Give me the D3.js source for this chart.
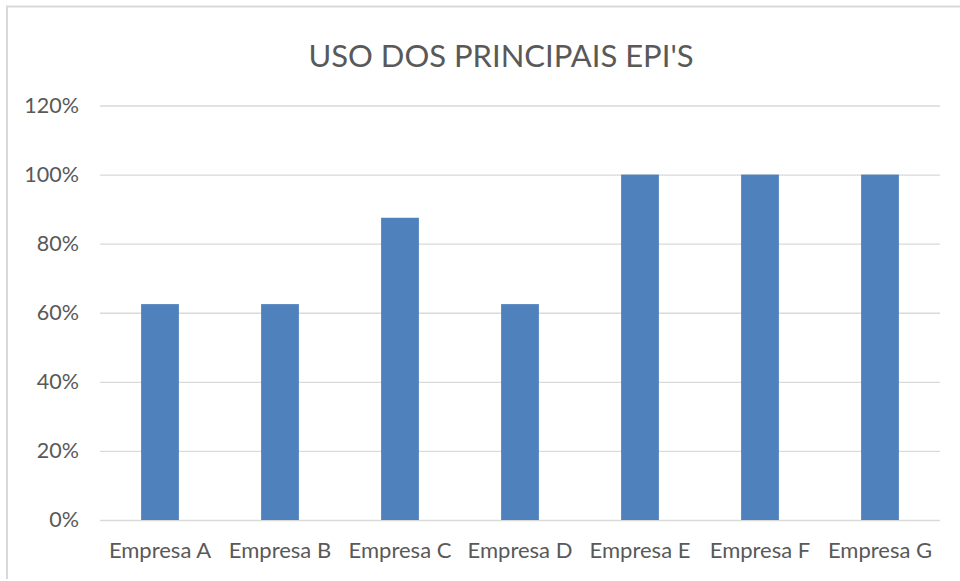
<!DOCTYPE html>
<html><head><meta charset="utf-8">
<script src="https://cdn.jsdelivr.net/npm/d3@7"></script>
<style>body{margin:0;background:#fff}svg{display:block}</style>
</head><body>
<svg id="c" width="960" height="581"></svg>
<script>
const categories = ["Empresa A","Empresa B","Empresa C","Empresa D","Empresa E","Empresa F","Empresa G"];
const values = [0.625,0.625,0.875,0.625,1.0,1.0,1.0];
const yTicks = [0,0.2,0.4,0.6,0.8,1.0,1.2];
const title = "USO DOS PRINCIPAIS EPI'S";

const svg = d3.select("#c");
const font = "Lato, 'Open Sans', sans-serif";
const txt = "#595959";

// chart frame (left and top edges visible)
svg.append("path").attr("d","M7,579V6.5H960").attr("fill","none").attr("stroke","#d9d9d9").attr("stroke-width",2);

const x = d3.scaleBand().domain(categories).range([100,940]).paddingInner(0.685).paddingOuter(0.3425);
const y = d3.scaleLinear().domain([0,1.2]).range([520,105.5]);

// gridlines
const yAxis = d3.axisLeft(y).tickValues(yTicks).tickFormat(d3.format(".0%")).tickSize(-840).tickPadding(21);
const gy = svg.append("g").attr("transform","translate(100,0)").call(yAxis);
gy.select(".domain").remove();
gy.selectAll(".tick line").attr("stroke","#d9d9d9").attr("stroke-width",1.3);
gy.selectAll(".tick text").attr("fill",txt).style("font-family",font).style("font-size","21.5px");

// bars
svg.append("g").selectAll("rect").data(values).join("rect")
  .attr("x",(d,i)=>x(categories[i]))
  .attr("width",x.bandwidth())
  .attr("y",d=>y(d))
  .attr("height",d=>y(0)-y(d))
  .attr("fill","#4f81bd");

// x axis labels
const xAxis = d3.axisBottom(x).tickSize(0).tickPadding(22);
const gx = svg.append("g").attr("transform","translate(0,520)").call(xAxis);
gx.select(".domain").remove();
gx.selectAll(".tick text").attr("fill",txt).style("font-family",font).style("font-size","22px");

// title
svg.append("text").attr("x",501).attr("y",67).attr("text-anchor","middle")
  .attr("fill",txt).style("font-family",font).style("font-size","31px").text(title);
</script>
</body></html>
